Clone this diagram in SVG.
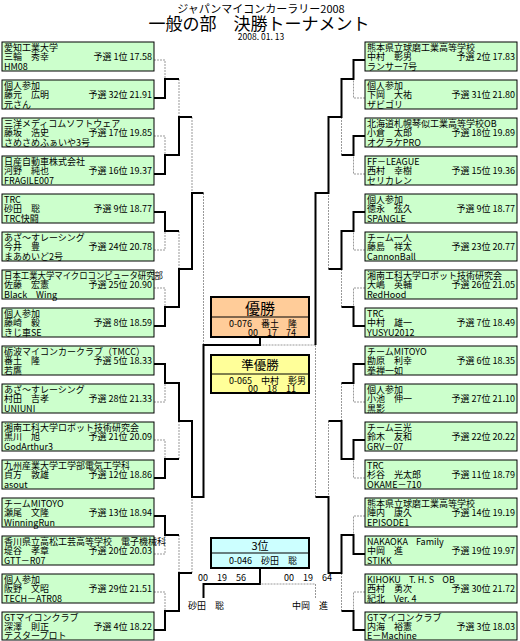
<svg xmlns="http://www.w3.org/2000/svg" width="520" height="641" viewBox="0 0 520 641">
<style>
.bg{fill:#fff}
.n rect{fill:#ccffcc;stroke:#000;stroke-width:1}
text{font-family:"Noto Sans CJK JP","Noto Sans CJK SC",sans-serif;fill:#000}
.tx{font-size:9px}
.r{text-anchor:end}
.c{text-anchor:middle}
.w{fill:none;stroke:#000;stroke-width:2}
.l{fill:none;stroke:#999;stroke-width:1;stroke-dasharray:2 1}
.f rect.o{stroke:#000;stroke-width:2}
.f line{stroke:#000;stroke-width:1}
</style>
<rect class="bg" x="0" y="0" width="520" height="641"/>
<g id="title">
<text class="c" x="261" y="13" font-size="11">ジャパンマイコンカーラリー2008</text>
<text class="c" x="259" y="29.5" font-size="17">一般の部　決勝トーナメント</text>
<text class="c" x="261" y="39.5" font-size="8.5">2008. 01. 13</text>
</g>
<g id="connectors">
<path class="l" d="M154,60H165V79 M154,136H165V155 M154,250H165V231 M154,288H165V307 M154,402H165V383 M154,440H165V459 M154,554H165V535 M154,592H165V611"/>
<path class="l" d="M179,79V117 M179,231V269 M179,459V421 M179,535V573 M192,117V193 M192,573V497 M203.5,193V345"/>
<path class="l" d="M365,98H353.5V79 M365,174H353.5V155 M365,250H353.5V231 M365,288H353.5V307 M365,402H353.5V383 M365,478H353.5V459 M365,516H353.5V535 M365,592H353.5V611"/>
<path class="l" d="M341.5,155V117 M341.5,307V269 M341.5,383V421 M341.5,611V573 M328.5,269V193 M328.5,421V497 M315.5,497V345 M315.5,345H260"/>
<path class="w" d="M154,98H165V79H179 M154,174H165V155H179V117H192 M154,212H165V231H179 M154,326H165V307H179V269H192V193H203.5 M154,364H165V383H179V421H192V497H203.5V345H260V337 M154,478H165V459H179 M154,516H165V535H179 M154,630H165V611H179V573H192"/>
<path class="w" d="M365,60H353.5V79H341.5V117H328.5V193H315.5V345 M365,136H353.5V155H341.5 M365,212H353.5V231H341.5V269H328.5 M365,326H353.5V307H341.5 M365,364H353.5V383H341.5 M365,440H353.5V459H341.5V421H328.5 M365,554H353.5V535H341.5V573H328.5V497H315.5 M365,630H353.5V611H341.5"/>
<path class="w" d="M203.5,598V584H260V568"/>
<path class="l" d="M315.5,598V584H260"/>
</g>
<g id="L01" class="n"><rect x="2" y="42" width="152" height="29"/><text class="tx" x="4" y="50.5">愛知工業大学</text><text class="tx" x="4" y="60">三輪　秀幸</text><text class="tx r" x="152" y="60">予選 1位 17.58</text><text class="tx" x="4" y="69.5">HM08</text></g>
<g id="L02" class="n"><rect x="2" y="80" width="152" height="29"/><text class="tx" x="4" y="88.5">個人参加</text><text class="tx" x="4" y="98">藤元　広明</text><text class="tx r" x="152" y="98">予選 32位 21.91</text><text class="tx" x="4" y="107.5">元さん</text></g>
<g id="L03" class="n"><rect x="2" y="118" width="152" height="29"/><text class="tx" x="4" y="126.5">三洋メディコムソフトウェア</text><text class="tx" x="4" y="136">藤坂　浩史</text><text class="tx r" x="152" y="136">予選 17位 19.85</text><text class="tx" x="4" y="145.5">さめさめふぁいや3号</text></g>
<g id="L04" class="n"><rect x="2" y="156" width="152" height="29"/><text class="tx" x="4" y="164.5">日産自動車株式会社</text><text class="tx" x="4" y="174">河野　純也</text><text class="tx r" x="152" y="174">予選 16位 19.37</text><text class="tx" x="4" y="183.5">FRAGILE007</text></g>
<g id="L05" class="n"><rect x="2" y="194" width="152" height="29"/><text class="tx" x="4" y="202.5">TRC</text><text class="tx" x="4" y="212">砂田　聡</text><text class="tx r" x="152" y="212">予選 9位 18.77</text><text class="tx" x="4" y="221.5">TRC快闘</text></g>
<g id="L06" class="n"><rect x="2" y="232" width="152" height="29"/><text class="tx" x="4" y="240.5">あざ～すレーシング</text><text class="tx" x="4" y="250">今井　豊</text><text class="tx r" x="152" y="250">予選 24位 20.78</text><text class="tx" x="4" y="259.5">まあめいど2号</text></g>
<g id="L07" class="n"><rect x="2" y="270" width="152" height="29"/><text class="tx" x="4" y="278.5" textLength="159" lengthAdjust="spacingAndGlyphs">日本工業大学マイクロコンピュータ研究部</text><text class="tx" x="4" y="288">佐藤　宏憲</text><text class="tx r" x="152" y="288">予選 25位 20.90</text><text class="tx" x="4" y="297.5">Black　Wing</text></g>
<g id="L08" class="n"><rect x="2" y="308" width="152" height="29"/><text class="tx" x="4" y="316.5">個人参加</text><text class="tx" x="4" y="326">藤崎　毅</text><text class="tx r" x="152" y="326">予選 8位 18.59</text><text class="tx" x="4" y="335.5">きじ車SE</text></g>
<g id="L09" class="n"><rect x="2" y="346" width="152" height="29"/><text class="tx" x="4" y="354.5">砺波マイコンカークラブ（TMCC）</text><text class="tx" x="4" y="364">番土　隆</text><text class="tx r" x="152" y="364">予選 5位 18.33</text><text class="tx" x="4" y="373.5">若鷹</text></g>
<g id="L10" class="n"><rect x="2" y="384" width="152" height="29"/><text class="tx" x="4" y="392.5">あざ～すレーシング</text><text class="tx" x="4" y="402">村田　吉孝</text><text class="tx r" x="152" y="402">予選 28位 21.33</text><text class="tx" x="4" y="411.5">UNIUNI</text></g>
<g id="L11" class="n"><rect x="2" y="422" width="152" height="29"/><text class="tx" x="4" y="430.5">湘南工科大学ロボット技術研究会</text><text class="tx" x="4" y="440">黒川　旭</text><text class="tx r" x="152" y="440">予選 21位 20.09</text><text class="tx" x="4" y="449.5">GodArthur3</text></g>
<g id="L12" class="n"><rect x="2" y="460" width="152" height="29"/><text class="tx" x="4" y="468.5">九州産業大学工学部電気工学科</text><text class="tx" x="4" y="478">貞方　敦雄</text><text class="tx r" x="152" y="478">予選 12位 18.86</text><text class="tx" x="4" y="487.5">asout</text></g>
<g id="L13" class="n"><rect x="2" y="498" width="152" height="29"/><text class="tx" x="4" y="506.5">チームMITOYO</text><text class="tx" x="4" y="516">瀬尾　文隆</text><text class="tx r" x="152" y="516">予選 13位 18.94</text><text class="tx" x="4" y="525.5">WinningRun</text></g>
<g id="L14" class="n"><rect x="2" y="536" width="152" height="29"/><text class="tx" x="4" y="544.5">香川県立高松工芸高等学校　電子機械科</text><text class="tx" x="4" y="554">堤谷　孝章</text><text class="tx r" x="152" y="554">予選 20位 20.03</text><text class="tx" x="4" y="563.5">GTT－R07</text></g>
<g id="L15" class="n"><rect x="2" y="574" width="152" height="29"/><text class="tx" x="4" y="582.5">個人参加</text><text class="tx" x="4" y="592">阪野　文昭</text><text class="tx r" x="152" y="592">予選 29位 21.51</text><text class="tx" x="4" y="601.5">TECH－ATR08</text></g>
<g id="L16" class="n"><rect x="2" y="612" width="152" height="28"/><text class="tx" x="4" y="620.5">GTマイコンクラブ</text><text class="tx" x="4" y="630">深澤　則正</text><text class="tx r" x="152" y="630">予選 4位 18.22</text><text class="tx" x="4" y="639">テスタープロト</text></g>
<g id="R01" class="n"><rect x="365" y="42" width="152" height="29"/><text class="tx" x="367" y="50.5">熊本県立球磨工業高等学校</text><text class="tx" x="367" y="60">中村　彰男</text><text class="tx r" x="515" y="60">予選 2位 17.83</text><text class="tx" x="367" y="69.5">ランサー7号</text></g>
<g id="R02" class="n"><rect x="365" y="80" width="152" height="29"/><text class="tx" x="367" y="88.5">個人参加</text><text class="tx" x="367" y="98">下岡　大祐</text><text class="tx r" x="515" y="98">予選 31位 21.80</text><text class="tx" x="367" y="107.5">ザビゴリ</text></g>
<g id="R03" class="n"><rect x="365" y="118" width="152" height="29"/><text class="tx" x="367" y="126.5">北海道札幌琴似工業高等学校OB</text><text class="tx" x="367" y="136">小倉　太郎</text><text class="tx r" x="515" y="136">予選 18位 19.89</text><text class="tx" x="367" y="145.5">オグラケPRO</text></g>
<g id="R04" class="n"><rect x="365" y="156" width="152" height="29"/><text class="tx" x="367" y="164.5">FF－LEAGUE</text><text class="tx" x="367" y="174">西村　幸樹</text><text class="tx r" x="515" y="174">予選 15位 19.36</text><text class="tx" x="367" y="183.5">セリカレン</text></g>
<g id="R05" class="n"><rect x="365" y="194" width="152" height="29"/><text class="tx" x="367" y="202.5">個人参加</text><text class="tx" x="367" y="212">徳永　弦久</text><text class="tx r" x="515" y="212">予選 9位 18.77</text><text class="tx" x="367" y="221.5">SPANGLE</text></g>
<g id="R06" class="n"><rect x="365" y="232" width="152" height="29"/><text class="tx" x="367" y="240.5">チーム一人</text><text class="tx" x="367" y="250">藤島　祥太</text><text class="tx r" x="515" y="250">予選 23位 20.77</text><text class="tx" x="367" y="259.5">CannonBall</text></g>
<g id="R07" class="n"><rect x="365" y="270" width="152" height="29"/><text class="tx" x="367" y="278.5">湘南工科大学ロボット技術研究会</text><text class="tx" x="367" y="288">大嶋　英輔</text><text class="tx r" x="515" y="288">予選 26位 21.05</text><text class="tx" x="367" y="297.5">RedHood</text></g>
<g id="R08" class="n"><rect x="365" y="308" width="152" height="29"/><text class="tx" x="367" y="316.5">TRC</text><text class="tx" x="367" y="326">中村　雄一</text><text class="tx r" x="515" y="326">予選 7位 18.49</text><text class="tx" x="367" y="335.5">YUSYU2012</text></g>
<g id="R09" class="n"><rect x="365" y="346" width="152" height="29"/><text class="tx" x="367" y="354.5">チームMITOYO</text><text class="tx" x="367" y="364">勘原　利幸</text><text class="tx r" x="515" y="364">予選 6位 18.35</text><text class="tx" x="367" y="373.5">拳禅一如</text></g>
<g id="R10" class="n"><rect x="365" y="384" width="152" height="29"/><text class="tx" x="367" y="392.5">個人参加</text><text class="tx" x="367" y="402">小池　伸一</text><text class="tx r" x="515" y="402">予選 27位 21.10</text><text class="tx" x="367" y="411.5">黒影</text></g>
<g id="R11" class="n"><rect x="365" y="422" width="152" height="29"/><text class="tx" x="367" y="430.5">チーム三光</text><text class="tx" x="367" y="440">鈴木　友和</text><text class="tx r" x="515" y="440">予選 22位 20.22</text><text class="tx" x="367" y="449.5">GRV－07</text></g>
<g id="R12" class="n"><rect x="365" y="460" width="152" height="29"/><text class="tx" x="367" y="468.5">TRC</text><text class="tx" x="367" y="478">杉谷　光太郎</text><text class="tx r" x="515" y="478">予選 11位 18.79</text><text class="tx" x="367" y="487.5">OKAME－710</text></g>
<g id="R13" class="n"><rect x="365" y="498" width="152" height="29"/><text class="tx" x="367" y="506.5">熊本県立球磨工業高等学校</text><text class="tx" x="367" y="516">陣内　康久</text><text class="tx r" x="515" y="516">予選 14位 19.19</text><text class="tx" x="367" y="525.5">EPISODE1</text></g>
<g id="R14" class="n"><rect x="365" y="536" width="152" height="29"/><text class="tx" x="367" y="544.5" xml:space="preserve">NAKAOKA    Family</text><text class="tx" x="367" y="554">中岡　進</text><text class="tx r" x="515" y="554">予選 19位 19.97</text><text class="tx" x="367" y="563.5">STIKK</text></g>
<g id="R15" class="n"><rect x="365" y="574" width="152" height="29"/><text class="tx" x="367" y="582.5" xml:space="preserve">KIHOKU    T. H. S    OB</text><text class="tx" x="367" y="592">西村　勇次</text><text class="tx r" x="515" y="592">予選 30位 21.72</text><text class="tx" x="367" y="601.5">紀北　Ver. 4</text></g>
<g id="R16" class="n"><rect x="365" y="612" width="152" height="28"/><text class="tx" x="367" y="620.5">GTマイコンクラブ</text><text class="tx" x="367" y="630">内海　裕憲</text><text class="tx r" x="515" y="630">予選 3位 18.03</text><text class="tx" x="367" y="639">E－Machine</text></g>
<g id="winner" class="f"><rect class="o" x="211" y="297" width="98" height="40" fill="#ffcc99"/><line x1="211" y1="317" x2="309" y2="317"/><text class="c" x="260" y="314" font-size="15">優勝</text><text class="tx" x="229" y="326.5">0-076　番土　隆</text><text class="tx" x="248" y="335.5">00　17　74</text></g>
<g id="runnerup" class="f"><rect class="o" x="211" y="355" width="98" height="38" fill="#ffff99"/><line x1="211" y1="374" x2="309" y2="374"/><text class="c" x="260" y="370" font-size="12.5">準優勝</text><text class="tx" x="229" y="383.5">0-065　中村　彰男</text><text class="tx" x="248" y="392">00　18　11</text></g>
<g id="third" class="f"><rect class="o" x="211" y="538" width="98" height="30" fill="#ccffff"/><line x1="211" y1="553" x2="309" y2="553"/><text class="c" x="260" y="550" font-size="11">3位</text><text class="tx" x="229" y="564">0-046　砂田　聡</text></g>
<g id="third-labels">
<text class="tx" x="198" y="581">00　19　56</text>
<text class="tx" x="284" y="581">00　19　64</text>
<text class="tx" x="188" y="609">砂田　聡</text>
<text class="tx" x="292" y="609">中岡　進</text>
</g>
</svg>
